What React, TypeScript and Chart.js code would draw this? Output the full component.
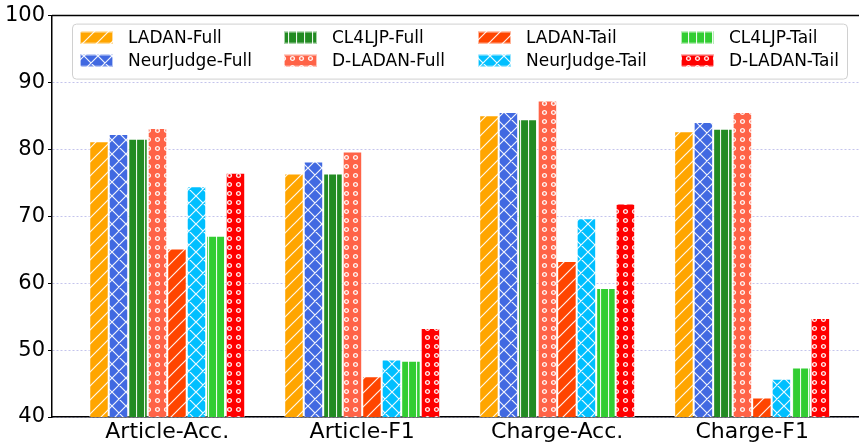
import React, { useEffect, useRef } from "react";
import { Chart, registerables } from "chart.js";
Chart.register(...registerables);

const categories = ["Article-Acc.", "Article-F1", "Charge-Acc.", "Charge-F1"];
const seriesNames = [
  "LADAN-Full",
  "NeurJudge-Full",
  "CL4LJP-Full",
  "D-LADAN-Full",
  "LADAN-Tail",
  "NeurJudge-Tail",
  "CL4LJP-Tail",
  "D-LADAN-Tail",
];
const ladanFull = [81.2, 76.4, 85.1, 82.7];
const neurJudgeFull = [82.3, 78.2, 85.6, 84.1];
const cl4ljpFull = [81.6, 76.4, 84.5, 83.1];
const dLadanFull = [83.2, 79.7, 87.3, 85.6];
const ladanTail = [65.2, 46.1, 63.3, 42.9];
const neurJudgeTail = [74.5, 48.6, 69.7, 45.7];
const cl4ljpTail = [67.1, 48.4, 59.3, 47.4];
const dLadanTail = [76.5, 53.3, 71.9, 54.8];
const yMin = 40;
const yMax = 100;
const yStep = 10;

const seriesValues = [
  ladanFull,
  neurJudgeFull,
  cl4ljpFull,
  dLadanFull,
  ladanTail,
  neurJudgeTail,
  cl4ljpTail,
  dLadanTail,
];
const seriesColors = [
  "#FFA500",
  "#4169E1",
  "#228B22",
  "#FF6347",
  "#FF4500",
  "#00BFFF",
  "#32CD32",
  "#FF0000",
];
const seriesHatch = ["/", "x", "|", "o", "/", "x", "|", "o"];

const FONT = "'DejaVu Sans', sans-serif";

function makePattern(ctx: CanvasRenderingContext2D, color: string, kind: string) {
  const c = document.createElement("canvas");
  let w = 14;
  let h = 14;
  if (kind === "|") { w = 8; h = 8; }
  if (kind === "o") { w = 9; h = 9; }
  c.width = w;
  c.height = h;
  const g = c.getContext("2d")!;
  g.fillStyle = color;
  g.fillRect(0, 0, w, h);
  g.strokeStyle = "rgba(255,255,255,0.92)";
  g.lineWidth = 1.2;
  if (kind === "/" || kind === "x") {
    g.beginPath();
    g.moveTo(-2, h + 2); g.lineTo(w + 2, -2);
    g.moveTo(-2, 2); g.lineTo(2, -2);
    g.moveTo(w - 2, h + 2); g.lineTo(w + 2, h - 2);
    if (kind === "x") {
      g.moveTo(-2, -2); g.lineTo(w + 2, h + 2);
      g.moveTo(-2, h - 2); g.lineTo(2, h + 2);
      g.moveTo(w - 2, -2); g.lineTo(w + 2, 2);
    }
    g.stroke();
  } else if (kind === "|") {
    g.beginPath();
    g.moveTo(0.5, 0); g.lineTo(0.5, h);
    g.stroke();
  } else if (kind === "o") {
    g.lineWidth = 1.4;
    g.beginPath();
    g.arc(w / 2, h / 2, 1.9, 0, Math.PI * 2);
    g.stroke();
  }
  return ctx.createPattern(c, "repeat")!;
}

export default function App() {
  const ref = useRef<HTMLCanvasElement | null>(null);
  useEffect(() => {
    document.body.style.margin = "0";
    const canvas = ref.current!;
    const ctx = canvas.getContext("2d")!;
    const patterns = seriesColors.map((c, i) => makePattern(ctx, c, seriesHatch[i]));

    const legendPlugin = {
      id: "customLegend",
      afterDraw(chart: any) {
        const c = chart.ctx as CanvasRenderingContext2D;
        const area = chart.chartArea;
        c.save();
        c.strokeStyle = "#000";
        c.lineWidth = 1.5;
        c.beginPath();
        c.moveTo(area.left, area.top);
        c.lineTo(area.right, area.top);
        c.stroke();
        c.restore();

        const bx = area.left + 20;
        const by = area.top + 8;
        const bw = 775;
        const bh = 55;
        c.save();
        c.fillStyle = "rgba(255,255,255,0.85)";
        c.strokeStyle = "#d0d0d0";
        c.lineWidth = 1;
        c.beginPath();
        (c as any).roundRect(bx + 0.5, by + 0.5, bw, bh, 4);
        c.fill();
        c.stroke();
        const colOffsets = [8, 212, 406, 609];
        const rowCenters = [14, 37];
        c.font = `17px ${FONT}`;
        c.textBaseline = "middle";
        seriesNames.forEach((name, i) => {
          const col = Math.floor(i / 2);
          const row = i % 2;
          const sx = bx + colOffsets[col];
          const cy = by + rowCenters[row];
          c.fillStyle = patterns[i];
          c.fillRect(sx, cy - 6, 33, 12);
          c.strokeStyle = "rgba(255,255,255,0.6)";
          c.lineWidth = 1;
          c.strokeRect(sx + 0.5, cy - 5.5, 32, 11);
          c.fillStyle = "#000";
          c.fillText(name, sx + 48, cy + 1);
        });
        c.restore();
      },
    };

    const chart = new Chart(canvas, {
      type: "bar",
      data: {
        datasets: seriesNames.map((name, i) => ({
          label: name,
          data: seriesValues[i].map((v, j) => ({ x: j, y: v })),
          backgroundColor: patterns[i],
          borderColor: "rgba(255,255,255,0.6)",
          borderWidth: 1,
          categoryPercentage: 0.8,
          barPercentage: 1,
        })),
      },
      options: {
        responsive: false,
        animation: false,
        layout: { padding: { top: 13, right: 0, left: 0, bottom: 0 } },
        plugins: {
          legend: { display: false },
          tooltip: { enabled: false },
        },
        scales: {
          x: {
            type: "linear",
            offset: false,
            bounds: "data",
            min: -0.591,
            max: 3.548,
            afterBuildTicks: (scale: any) => {
              scale.ticks = categories.map((_, i) => ({ value: i }));
            },
            afterFit: (scale: any) => {
              scale.height = 31;
            },
            grid: { display: false, drawTicks: false, offset: false },
            border: { display: true, color: "#000", width: 1.5 },
            ticks: {
              color: "#000",
              font: { family: FONT, size: 22 },
              padding: 2,
              maxRotation: 0,
              autoSkip: false,
              callback: (v: any) => categories[v as number] ?? "",
            },
          },
          y: {
            min: yMin,
            max: yMax,
            afterFit: (scale: any) => {
              scale.width = 52;
            },
            ticks: {
              stepSize: yStep,
              color: "#000",
              font: { family: FONT, size: 21 },
              padding: 3,
            },
            grid: {
              color: "rgba(176,176,230,0.75)",
              lineWidth: 1,
              drawTicks: true,
              tickLength: 4,
              tickColor: "#000",
              tickWidth: 1,
            },
            border: { display: true, color: "#000", width: 1.5, dash: [2, 2] },
          },
        },
      },
      plugins: [legendPlugin],
    } as any);
    return () => chart.destroy();
  }, []);
  return (
    <div style={{ width: 859, height: 448 }}>
      <canvas ref={ref} width={859} height={448} style={{ display: "block" }} />
    </div>
  );
}
